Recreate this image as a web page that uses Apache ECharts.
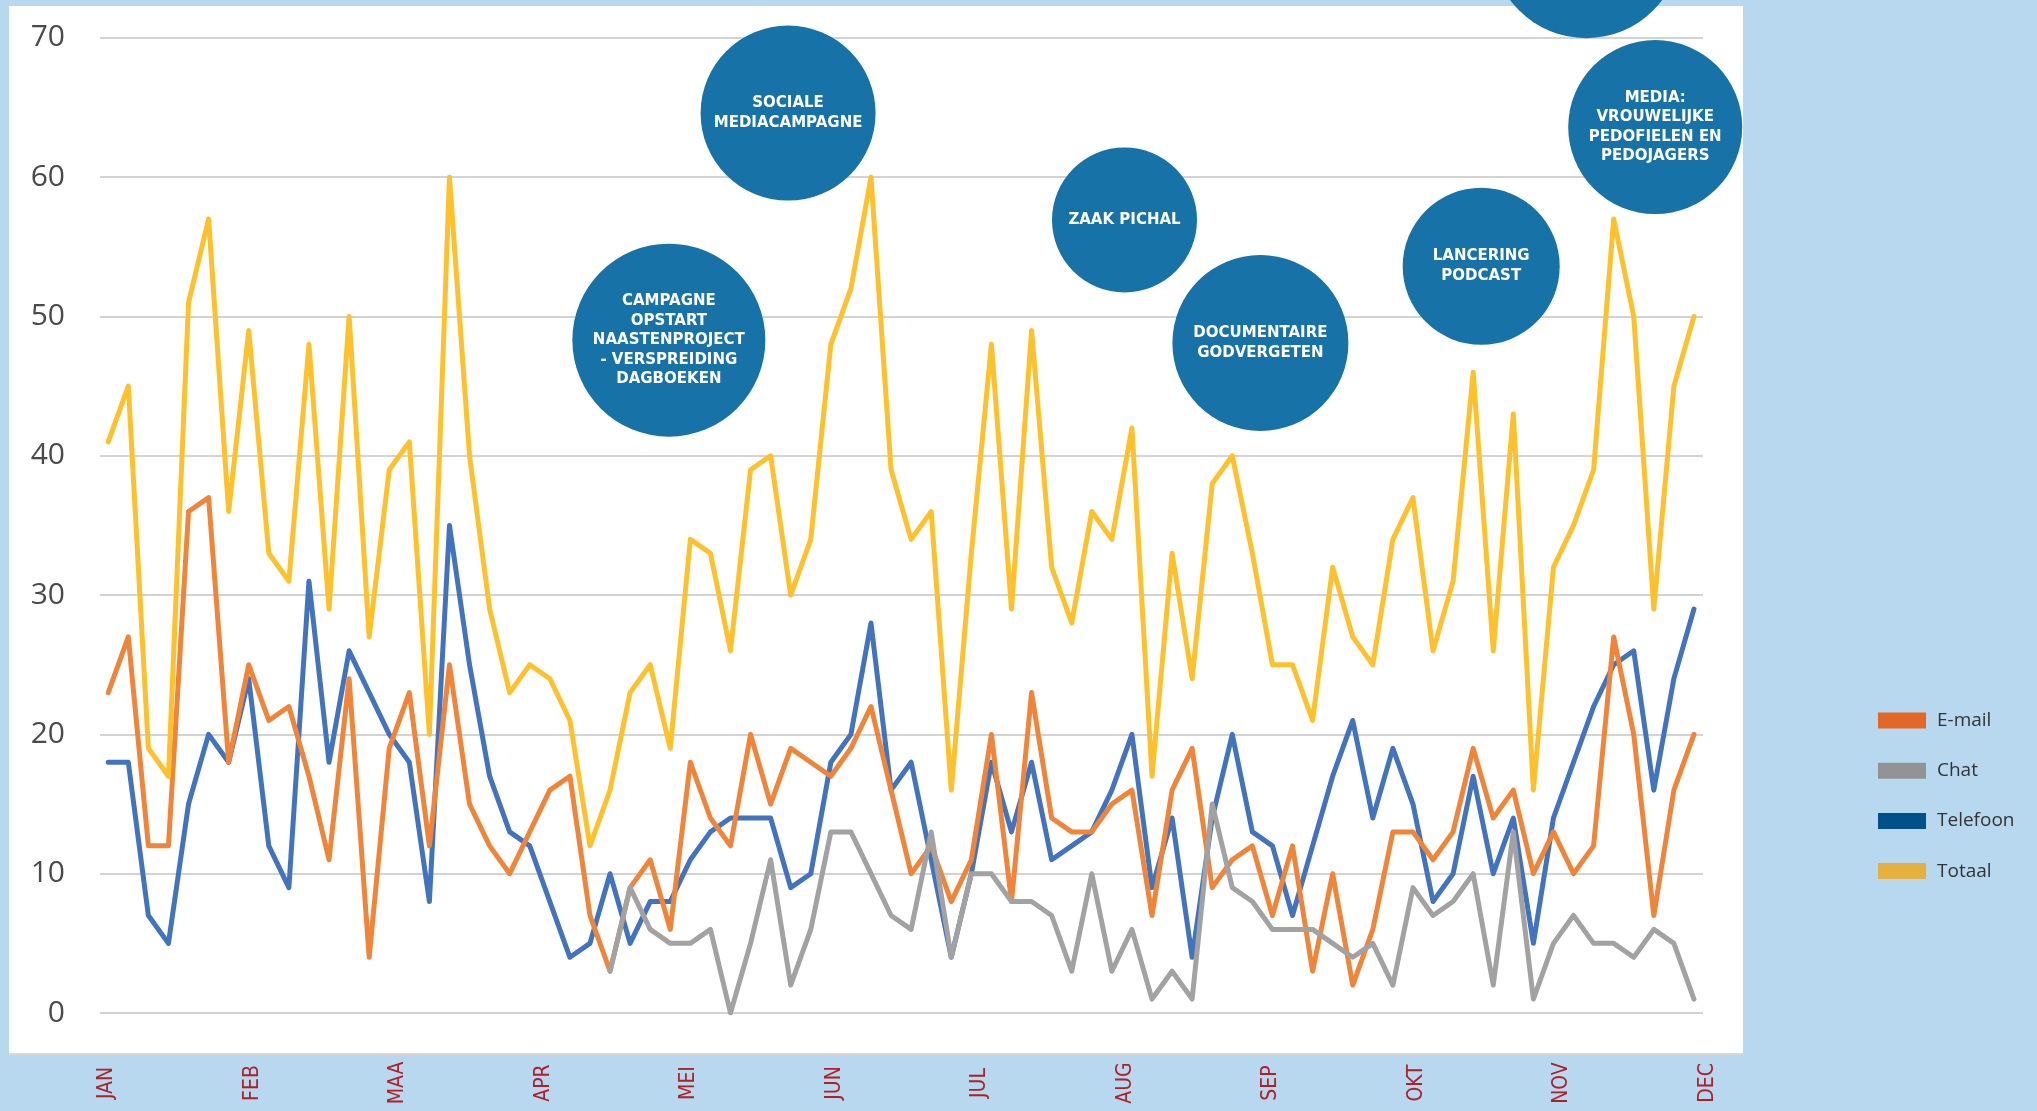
<!DOCTYPE html>
<html>
<head>
<meta charset="utf-8">
<script src="https://cdn.jsdelivr.net/npm/echarts@6/dist/echarts.min.js"></script>
<style>
html,body{margin:0;padding:0;background:#b8d8ef;}
#chart{width:2037px;height:1111px;}
</style>
</head>
<body>
<div id="chart"></div>
<script>
// ---- data ----
const months = ['JAN','FEB','MAA','APR','MEI','JUN','JUL','AUG','SEP','OKT','NOV','DEC'];
const yTicks = [0,10,20,30,40,50,60,70];

const email = [23,27,12,12,36,37,18,25,21,22,17,11,24,4,19,
  23,12,25,15,12,10,13,16,17,7,3,9,11,6,18,
  14,12,20,15,19,18,17,19,22,16,10,12,8,11,20,
  8,23,14,13,13,15,16,7,16,19,9,11,12,7,12,
  3,10,2,6,13,13,11,13,19,14,16,10,13,10,
  12,27,20,7,16,20];
const chat = [null,null,null,null,null,null,null,null,null,null,null,null,null,null,null,
  null,null,null,null,null,null,null,null,null,null,3,9,6,5,5,
  6,0,5,11,2,6,13,13,10,7,6,13,4,10,10,
  8,8,7,3,10,3,6,1,3,1,15,9,8,6,6,
  6,5,4,5,2,9,7,8,10,2,13,1,5,7,
  5,5,4,6,5,1];
const telefoon = [18,18,7,5,15,20,18,24,12,9,31,18,26,23,20,
  18,8,35,25,17,13,12,8,4,5,10,5,8,8,11,
  13,14,14,14,9,10,18,20,28,16,18,11,4,10,18,
  13,18,11,12,13,16,20,9,14,4,14,20,13,12,7,
  12,17,21,14,19,15,8,10,17,10,14,5,14,18,
  22,25,26,16,24,29];
const totaal = [41,45,19,17,51,57,36,49,33,31,48,29,50,27,39,
  41,20,60,40,29,23,25,24,21,12,16,23,25,19,34,
  33,26,39,40,30,34,48,52,60,39,34,36,16,33,48,
  29,49,32,28,36,34,42,17,33,24,38,40,33,25,25,
  21,32,27,25,34,37,26,31,46,26,43,16,32,35,
  39,57,50,29,45,50];

// annotation bubbles (anchored at week index / level)
const annoText = [
  'CAMPAGNE\nOPSTART\nNAASTENPROJECT\n- VERSPREIDING\nDAGBOEKEN',
  'SOCIALE\nMEDIACAMPAGNE',
  'ZAAK PICHAL',
  'DOCUMENTAIRE\nGODVERGETEN',
  'LANCERING\nPODCAST',
  'MEDIA:\nVROUWELIJKE\nPEDOFIELEN EN\nPEDOJAGERS',
  ''
];
const annoWeek = [27.93, 33.87, 50.63, 57.4, 68.4, 77.07, 73.63];
const annoLevel = [48.3, 64.6, 56.93, 48.1, 53.6, 63.6, 76.8];

// ---- styling (not data) ----
const annoSize = [193, 175, 145, 176, 157, 174, 190];
const lineColors = {email:'#f08539', chat:'#a2a2a2', telefoon:'#4173bf', totaal:'#ffc12b'};
const legendColors = {email:'#e36827', chat:'#939396', telefoon:'#00508a', totaal:'#e6b040'};

const toPairs = arr => arr.map((v,i)=>[i, v === null ? '-' : v]);

function lineSeries(name, arr, color){
  return {
    name: name, type:'line', xAxisIndex:0, yAxisIndex:0,
    data: toPairs(arr), showSymbol:false, symbol:'none',
    lineStyle:{width:5, color:color, join:'round', cap:'round'},
    itemStyle:{color:color},
    connectNulls:false, silent:true
  };
}

const chart = echarts.init(document.getElementById('chart'), null, {renderer:'canvas'});
const option = {
  animation:false,
  backgroundColor:'#b8d8ef',
  graphic:[
    {type:'rect', z:-10, shape:{x:9,y:6,width:1734,height:1048}, style:{fill:'#ffffff'}},
    {type:'line', z:-9, shape:{x1:9,y1:1054,x2:1743,y2:1054}, style:{stroke:'#d8d8d8', lineWidth:2}}
  ],
  legend:{
    orient:'vertical', left:1873, top:706,
    itemWidth:48, itemHeight:16, itemGap:31.2, icon:'rect',
    textStyle:{fontSize:19, color:'#333333', fontFamily:'Open Sans', padding:[0,0,0,6]},
    data:[
      {name:'E-mail', itemStyle:{color:legendColors.email}},
      {name:'Chat', itemStyle:{color:legendColors.chat}},
      {name:'Telefoon', itemStyle:{color:legendColors.telefoon}},
      {name:'Totaal', itemStyle:{color:legendColors.totaal}}
    ]
  },
  grid:[
    {left:100, top:37.9, width:1603, height:975.1, containLabel:false},
    {left:107, top:1000, width:1600.5, height:54, containLabel:false}
  ],
  xAxis:[
    {type:'value', gridIndex:0, min:-0.41, max:79.45, show:false},
    {type:'category', gridIndex:1, data:months, boundaryGap:false, position:'bottom',
      axisLine:{show:false}, axisTick:{show:false}, splitLine:{show:false},
      axisLabel:{interval:0, rotate:90, margin:29, align:'center', verticalAlign:'middle',
        color:'#ad2128', fontSize:21,
        fontFamily:"'Liberation Sans Narrow','DejaVu Sans Condensed','Liberation Sans',sans-serif"}}
  ],
  yAxis:[
    {type:'value', gridIndex:0, min:yTicks[0], max:yTicks[yTicks.length-1], interval:10,
      axisLine:{show:false}, axisTick:{show:false},
      splitLine:{show:true, lineStyle:{color:'#d3d3d3', width:2}},
      axisLabel:{margin:35, fontSize:30, color:'#4a4a4a', fontFamily:'Open Sans'}},
    {type:'value', gridIndex:1, show:false}
  ],
  series:[
    lineSeries('Telefoon', telefoon, lineColors.telefoon),
    lineSeries('E-mail', email, lineColors.email),
    lineSeries('Chat', chat, lineColors.chat),
    lineSeries('Totaal', totaal, lineColors.totaal),
    {
      type:'scatter', xAxisIndex:0, yAxisIndex:0, clip:false, silent:true, z:5,
      symbol:'circle',
      itemStyle:{color:'#1672a7', opacity:1},
      label:{show:true, position:'inside', color:'#ffffff', fontWeight:'bold',
        fontSize:15, lineHeight:19.5, fontFamily:'DejaVu Sans', align:'center'},
      emphasis:{disabled:true},
      data: annoText.map((t,i)=>({
        value:[annoWeek[i], annoLevel[i]],
        symbolSize: annoSize[i],
        label:{formatter:t}
      }))
    }
  ]
};
chart.setOption(option);
</script>
</body>
</html>
